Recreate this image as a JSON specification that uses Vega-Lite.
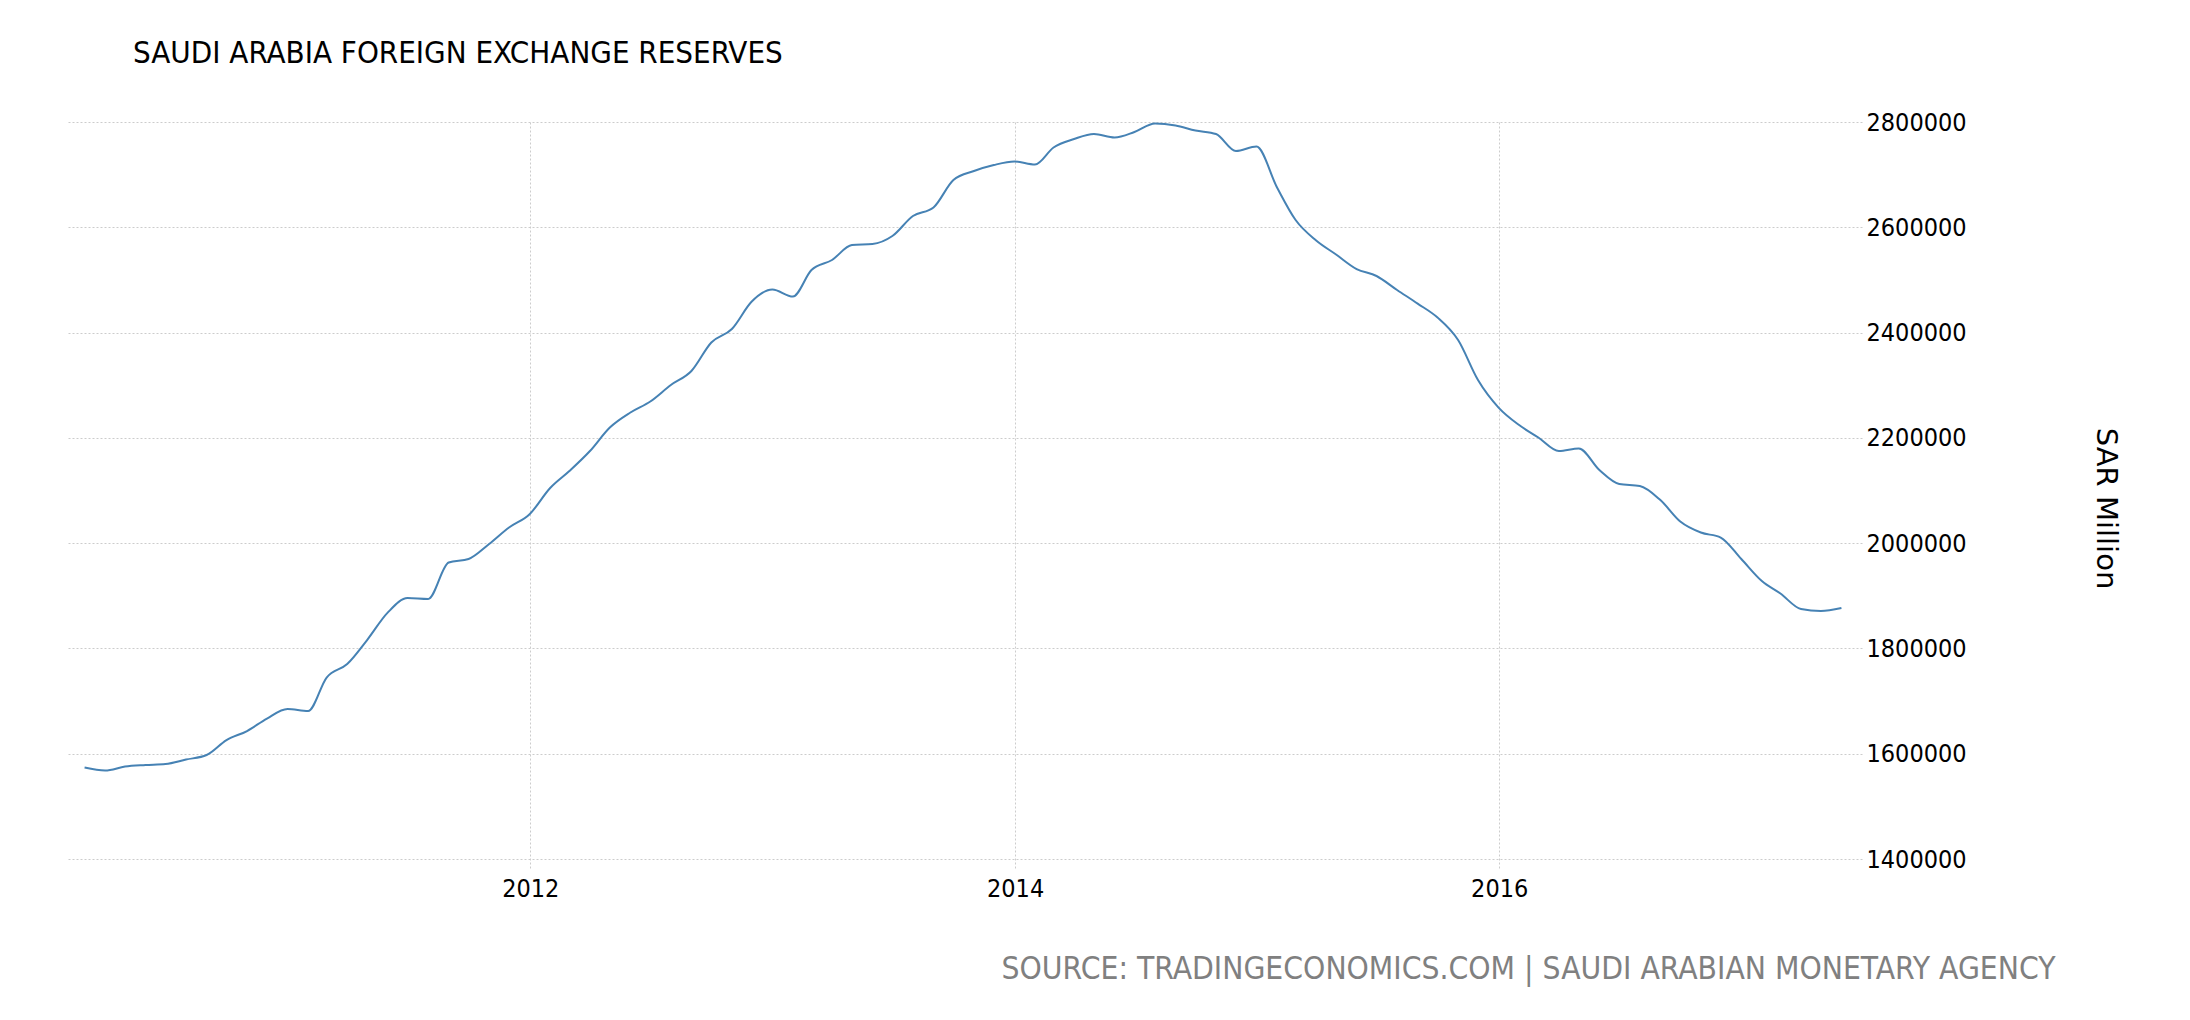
{
  "$schema": "https://vega.github.io/schema/vega-lite/v6.json",
  "width": 1796,
  "height": 746,
  "autosize": {"type": "none"},
  "padding": {"left": 66, "top": 122, "right": 328, "bottom": 152},
  "background": "white",
  "title": {
    "text": "SAUDI ARABIA FOREIGN EXCHANGE RESERVES",
    "anchor": "start",
    "frame": "group",
    "dx": 67,
    "offset": 16,
    "baseline": "alphabetic",
    "font": "DejaVu Sans Condensed",
    "fontSize": 31,
    "fontWeight": "normal",
    "color": "#000000"
  },
  "config": {
    "view": {"stroke": null},
    "axis": {
      "labelFont": "DejaVu Sans Condensed",
      "titleFont": "DejaVu Sans Condensed",
      "labelColor": "#000000",
      "gridColor": "#cccccc",
      "gridDash": [2, 2],
      "gridWidth": 1,
      "ticks": false,
      "domain": false
    }
  },
  "data": {
    "values": [
      {"date": "2010-02-28", "value": 1573800},
      {"date": "2010-03-31", "value": 1568100},
      {"date": "2010-04-30", "value": 1575700},
      {"date": "2010-05-31", "value": 1578600},
      {"date": "2010-06-30", "value": 1580500},
      {"date": "2010-07-31", "value": 1589000},
      {"date": "2010-08-31", "value": 1597600},
      {"date": "2010-09-30", "value": 1626000},
      {"date": "2010-10-31", "value": 1643200},
      {"date": "2010-11-30", "value": 1666900},
      {"date": "2010-12-31", "value": 1684900},
      {"date": "2011-01-31", "value": 1681100},
      {"date": "2011-02-28", "value": 1744800},
      {"date": "2011-03-31", "value": 1770400},
      {"date": "2011-04-30", "value": 1816000},
      {"date": "2011-05-31", "value": 1868000},
      {"date": "2011-06-30", "value": 1895800},
      {"date": "2011-07-31", "value": 1893900},
      {"date": "2011-08-31", "value": 1963200},
      {"date": "2011-09-30", "value": 1969900},
      {"date": "2011-10-31", "value": 1998400},
      {"date": "2011-11-30", "value": 2029700},
      {"date": "2011-12-31", "value": 2055000},
      {"date": "2012-01-31", "value": 2104700},
      {"date": "2012-02-29", "value": 2137000},
      {"date": "2012-03-31", "value": 2175000},
      {"date": "2012-04-30", "value": 2219700},
      {"date": "2012-05-31", "value": 2248200},
      {"date": "2012-06-30", "value": 2269100},
      {"date": "2012-07-31", "value": 2300400},
      {"date": "2012-08-31", "value": 2327000},
      {"date": "2012-09-30", "value": 2381100},
      {"date": "2012-10-31", "value": 2406800},
      {"date": "2012-11-30", "value": 2459000},
      {"date": "2012-12-31", "value": 2481800},
      {"date": "2013-01-31", "value": 2468500},
      {"date": "2013-02-28", "value": 2518900},
      {"date": "2013-03-31", "value": 2537900},
      {"date": "2013-04-30", "value": 2566300},
      {"date": "2013-05-31", "value": 2568200},
      {"date": "2013-06-30", "value": 2583400},
      {"date": "2013-07-31", "value": 2621400},
      {"date": "2013-08-31", "value": 2637600},
      {"date": "2013-09-30", "value": 2689800},
      {"date": "2013-10-31", "value": 2707000},
      {"date": "2013-11-30", "value": 2718300},
      {"date": "2013-12-31", "value": 2725000},
      {"date": "2014-01-31", "value": 2719300},
      {"date": "2014-02-28", "value": 2751600},
      {"date": "2014-03-31", "value": 2767700},
      {"date": "2014-04-30", "value": 2777200},
      {"date": "2014-05-31", "value": 2770600},
      {"date": "2014-06-30", "value": 2781000},
      {"date": "2014-07-31", "value": 2797200},
      {"date": "2014-08-31", "value": 2793400},
      {"date": "2014-09-30", "value": 2783900},
      {"date": "2014-10-31", "value": 2777200},
      {"date": "2014-11-30", "value": 2744900},
      {"date": "2014-12-31", "value": 2753400},
      {"date": "2015-01-31", "value": 2675600},
      {"date": "2015-02-28", "value": 2613800},
      {"date": "2015-03-31", "value": 2574900},
      {"date": "2015-04-30", "value": 2548300},
      {"date": "2015-05-31", "value": 2520700},
      {"date": "2015-06-30", "value": 2507500},
      {"date": "2015-07-31", "value": 2480900},
      {"date": "2015-08-31", "value": 2455000},
      {"date": "2015-09-30", "value": 2428600},
      {"date": "2015-10-31", "value": 2385900},
      {"date": "2015-11-30", "value": 2309900},
      {"date": "2015-12-31", "value": 2257600},
      {"date": "2016-01-31", "value": 2224400},
      {"date": "2016-02-29", "value": 2200700},
      {"date": "2016-03-31", "value": 2175000},
      {"date": "2016-04-30", "value": 2179800},
      {"date": "2016-05-31", "value": 2138900},
      {"date": "2016-06-30", "value": 2112300},
      {"date": "2016-07-31", "value": 2108600},
      {"date": "2016-08-31", "value": 2081900},
      {"date": "2016-09-30", "value": 2041100},
      {"date": "2016-10-31", "value": 2020200},
      {"date": "2016-11-30", "value": 2010700},
      {"date": "2016-12-31", "value": 1969900},
      {"date": "2017-01-31", "value": 1928100},
      {"date": "2017-02-28", "value": 1904400},
      {"date": "2017-03-31", "value": 1874900},
      {"date": "2017-04-30", "value": 1871100},
      {"date": "2017-05-31", "value": 1876800}
    ]
  },
  "mark": {"type": "line", "interpolate": "monotone", "color": "#4682b4", "strokeWidth": 2},
  "encoding": {
    "x": {
      "field": "date",
      "type": "temporal",
      "scale": {"domain": [{"year": 2010, "month": 1, "date": 31}, {"year": 2017, "month": 7, "date": 1}]},
      "axis": {
        "values": [{"year": 2012, "month": 1, "date": 1}, {"year": 2014, "month": 1, "date": 1}, {"year": 2016, "month": 1, "date": 1}],
        "format": "%Y",
        "labelFontSize": 25,
        "labelPadding": 8,
        "title": "SOURCE: TRADINGECONOMICS.COM | SAUDI ARABIAN MONETARY AGENCY",
        "titleFontSize": 31.5,
        "titleFontWeight": "normal",
        "titleColor": "#808080",
        "titleAnchor": null,
        "titleAlign": "right",
        "titleBaseline": "alphabetic",
        "titleX": 1989,
        "titleY": 110
      }
    },
    "y": {
      "field": "value",
      "type": "quantitative",
      "scale": {"domain": [1383000, 2800000], "nice": false, "zero": false},
      "axis": {
        "orient": "right",
        "values": [1400000, 1600000, 1800000, 2000000, 2200000, 2400000, 2600000, 2800000],
        "format": "d",
        "labelFontSize": 25,
        "labelPadding": 4,
        "title": "SAR Million",
        "titleFont": "DejaVu Sans",
        "titleFontSize": 29,
        "titleFontWeight": "normal",
        "titleColor": "#000000",
        "titleAngle": 90,
        "titleAlign": "center",
        "titleBaseline": "middle",
        "titleX": 243,
        "titleY": 386
      }
    }
  }
}
